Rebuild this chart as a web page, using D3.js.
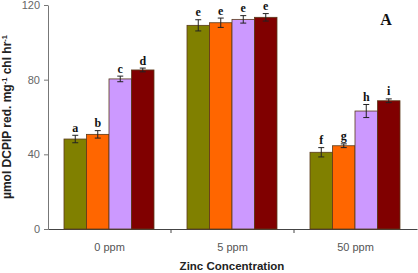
<!DOCTYPE html>
<html><head><meta charset="utf-8">
<script src="https://cdn.jsdelivr.net/npm/d3@7"></script>
<style>body{margin:0;background:#fff}svg{display:block}</style>
</head><body>
<svg id="c" width="418" height="273"></svg>
<script>
const categories = ["0 ppm", "5 ppm", "50 ppm"];
const seriesNames = ["s1", "s2", "s3", "s4"];
const colors = ["#808000", "#ff6600", "#cc99ff", "#800000"];
const values = [
  [48.2, 50.7, 80.4, 85.2],
  [109.1, 110.5, 112.3, 113.4],
  [41.1, 44.6, 63.2, 68.7]
];
const errors = [
  [2, 2, 1.5, 1],
  [3, 2.5, 2, 2],
  [2.5, 1, 3.5, 1]
];
const letters = [
  ["a", "b", "c", "d"],
  ["e", "e", "e", "e"],
  ["f", "g", "h", "i"]
];
const yTicks = [0, 40, 80, 120];

const svg = d3.select("#c");
const x0 = d3.scaleBand().domain(categories).range([48, 417]).paddingInner(0).paddingOuter(0);
const x1 = d3.scaleBand().domain(seriesNames).range([16, 106]).padding(0);
const y = d3.scaleLinear().domain([0, 120]).range([229, 5]);

// y axis
const ya = svg.append("g").attr("transform", "translate(48,0)")
  .call(d3.axisLeft(y).tickValues(yTicks).tickSize(4).tickSizeOuter(0).tickPadding(4));
ya.select(".domain").attr("stroke", "#777");
ya.selectAll(".tick line").attr("stroke", "#777");
ya.selectAll("text").attr("font-family", "Liberation Sans, Arial").attr("font-size", 11).attr("fill", "#666");

// x axis
const xa = svg.append("g").attr("transform", "translate(0,229)")
  .call(d3.axisBottom(x0).tickSize(0).tickPadding(14));
xa.select(".domain").attr("stroke", "#444");
xa.selectAll("text").attr("font-family", "Liberation Sans, Arial").attr("font-size", 11).attr("fill", "#555");
svg.append("g").selectAll("line").data(categories.slice(1)).join("line")
  .attr("x1", d => x0(d)).attr("x2", d => x0(d)).attr("y1", 229).attr("y2", 233).attr("stroke", "#444");

// bars
categories.forEach((cat, i) => {
  const g = svg.append("g").attr("transform", `translate(${x0(cat)},0)`);
  seriesNames.forEach((s, j) => {
    const v = values[i][j], e = errors[i][j];
    const bx = x1(s), bw = x1.bandwidth(), cx = bx + bw / 2;
    g.append("rect").attr("x", bx).attr("y", y(v)).attr("width", bw).attr("height", y(0) - y(v))
      .attr("fill", colors[j]).attr("stroke", "#5a3a1a").attr("stroke-width", 0.8);
    g.append("line").attr("x1", cx).attr("x2", cx).attr("y1", y(v + e)).attr("y2", y(v - e)).attr("stroke", "#222").attr("stroke-width", 1);
    [v + e, v - e].forEach(t => g.append("line").attr("x1", cx - 3).attr("x2", cx + 3).attr("y1", y(t)).attr("y2", y(t)).attr("stroke", "#222").attr("stroke-width", 1));
    g.append("text").attr("x", cx).attr("y", y(v + e) - 3.5).attr("text-anchor", "middle")
      .attr("font-family", "Liberation Serif, Times New Roman").attr("font-weight", "bold").attr("font-size", 12)
      .attr("fill", "#111").text(letters[i][j]);
  });
});

// axis titles
svg.append("text").attr("x", 232).attr("y", 270).attr("text-anchor", "middle")
  .attr("font-family", "Liberation Sans, Arial").attr("font-weight", "bold").attr("font-size", 11.5).attr("fill", "#222")
  .text("Zinc Concentration");
const yt = svg.append("text").attr("transform", "translate(11,117) rotate(-90)").attr("text-anchor", "middle")
  .attr("font-family", "Liberation Sans, Arial").attr("font-weight", "bold").attr("font-size", 12).attr("fill", "#222");
yt.append("tspan").text("µmol DCPIP red. mg");
yt.append("tspan").attr("dy", -4).attr("font-size", 7.5).text("-1");
yt.append("tspan").attr("dy", 4).text(" chl hr");
yt.append("tspan").attr("dy", -4).attr("font-size", 7.5).text("-1");

svg.append("text").attr("x", 386).attr("y", 25).attr("text-anchor", "middle")
  .attr("font-family", "Liberation Serif, Times New Roman").attr("font-weight", "bold").attr("font-size", 16).attr("fill", "#111")
  .text("A");
</script>
</body></html>
